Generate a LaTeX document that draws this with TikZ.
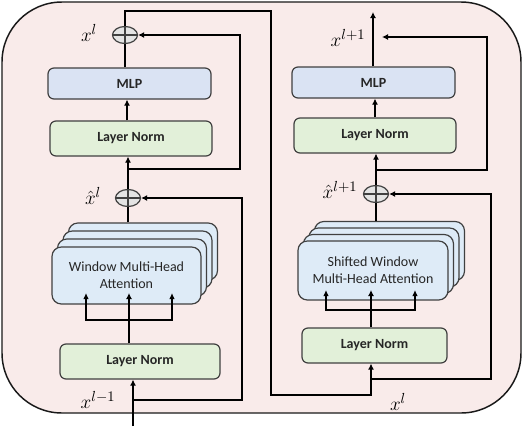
\documentclass[tikz,border=0pt]{standalone}
\usepackage{fontspec}
\newfontfamily\calib{Carlito}
\usetikzlibrary{arrows.meta,shapes.geometric}
\definecolor{bgpink}{HTML}{F9EBEA}
\definecolor{mlpblue}{HTML}{DAE3F3}
\definecolor{lngreen}{HTML}{E2F0D9}
\definecolor{mhablue}{HTML}{DEEBF7}
\definecolor{opgray}{HTML}{E4E4E4}
\definecolor{edge}{HTML}{404040}
\begin{document}
\begin{tikzpicture}[x=0.75pt,y=-0.75pt,
  sz/.style 2 args={minimum width=#1*0.75pt,minimum height=#2*0.75pt},
  blk/.style={draw=edge,line width=0.9pt,rounded corners=4.5pt,inner sep=0pt,align=center,
              text=black!85,font=\calib\fontsize{10.5}{12.5}\selectfont},
  mlpbox/.style={blk,fill=mlpblue,font=\calib\bfseries\fontsize{10.5}{12.5}\selectfont},
  lnbox/.style={blk,fill=lngreen,font=\calib\bfseries\fontsize{10.5}{12.5}\selectfont},
  mhabox/.style={blk,fill=mhablue,rounded corners=7pt},
  oplus/.style={ellipse,draw=edge,fill=opgray,line width=0.9pt,inner sep=0pt,sz={25}{17}},
  wire/.style={line width=1.6pt,black},
  arr/.style={wire,-{Latex[length=4.5pt,width=4.5pt]}},
  arrthick/.style={line width=2.1pt,black,-{Latex[length=4.5pt,width=4.5pt]}},
  arrthin/.style={line width=1.4pt,black,-{Latex[length=4.5pt,width=4.2pt]}},
  lbl/.style={inner sep=0pt,font=\fontsize{15}{17}\selectfont}]
\useasboundingbox (0,0) rectangle (526,426);
% outer panel
\draw[draw=black!90,fill=bgpink,line width=1.1pt,rounded corners=45pt] (2,2) rectangle (521,413);

% ---------------- left block ----------------
\node[mlpbox,sz={163}{31}] (mlpL) at (129.5,83.5) {MLP};
\node[lnbox,sz={162}{35}] (lnL1) at (131,138.5) {Layer Norm};
\node[lnbox,sz={160}{35}] (lnL2) at (140,361.5) {Layer Norm};
\foreach \i in {3,2,1}{
  \node[mhabox,sz={149}{57}] (mhaL\i) at (126.5+5.5*\i,275.5-8*\i) {};
}
\node[mhabox,sz={149}{57}] (mhaL) at (126.5,275.5) {Window Multi-Head\\Attention};
\node[oplus] (opA) at (125,35) {};
\node[oplus] (opB) at (128,198) {};
\foreach \o in {opA,opB}{
  \draw[edge,line width=0.9pt] (\o.north) -- (\o.south) (\o.west) -- (\o.east);
}
\node[lbl] (lxl) at (89,33) {$x^{l}$};
\node[lbl] (lxhl) at (93,196) {$\hat{x}^{l}$};
\node[lbl] (lxlm) at (98,400) {$x^{l-1}$};

\coordinate (inL) at (133,426);
\coordinate (brL) at (133,400);
\coordinate (cL) at (129,320);
\coordinate (tL1) at (86,293);
\coordinate (tL2) at (129,293);
\coordinate (tL3) at (172,293);
\coordinate (bL2) at (128,169);

\draw[arr] (inL) -- (inL |- lnL2.south);
\draw[arr] (brL) -- (242,400) |- (opB.east);
\draw[arrthick] (cL |- lnL2.north) -- (tL2);
\draw[arrthin] (cL) -| (tL1);
\draw[arrthin] (cL) -| (tL3);
\draw[wire] (opB |- mhaL3.north) -- (opB.south);
\draw[arr] (opB.north) -- (opB.north |- lnL1.south);
\draw[arr] (bL2) -- (240,169) |- (opA.east);
\draw[arr] (127,0 |- lnL1.north) -- (127,0 |- mlpL.south);
\draw[wire] (opA |- mlpL.north) -- (opA.south);

% ---------------- right block ----------------
\node[mlpbox,sz={163}{31}] (mlpR) at (373.5,82.5) {MLP};
\node[lnbox,sz={162}{35}] (lnR1) at (375,135.5) {Layer Norm};
\node[lnbox,sz={145}{35}] (lnR2) at (374.5,345.5) {Layer Norm};
\foreach \i in {3,2,1}{
  \node[mhabox,sz={150}{59}] (mhaR\i) at (373+5.5*\i,270.5-6.5*\i) {};
}
\node[mhabox,sz={150}{59}] (mhaR) at (373,270.5) {Shifted Window\\Multi-Head Attention};
\node[oplus] (opC) at (376,194) {};
\draw[edge,line width=0.9pt] (opC.north) -- (opC.south) (opC.west) -- (opC.east);
\node[lbl] (lxlp) at (348,38) {$x^{l+1}$};
\node[lbl] (lxhlp) at (340,190) {$\hat{x}^{l+1}$};
\node[lbl] (lxr) at (398,402) {$x^{l}$};

\coordinate (xRin) at (371,395);
\coordinate (bR1) at (371,379);
\coordinate (cR) at (371,310);
\coordinate (tR1) at (326,290);
\coordinate (tR2) at (371,290);
\coordinate (tR3) at (415,290);
\coordinate (bR2) at (376,170);
\coordinate (endR) at (382,37);
\coordinate (outR) at (373,12);

\draw[arr] (opA.north) |- (271,11) |- (xRin) -- (xRin |- lnR2.south);
\draw[arr] (bR1) -- (491,379) |- (opC.east);
\draw[arrthick] (cR |- lnR2.north) -- (tR2);
\draw[arrthin] (cR) -| (tR1);
\draw[arrthin] (cR) -| (tR3);
\draw[wire] (opC |- mhaR3.north) -- (opC.south);
\draw[arr] (opC.north) -- (opC.north |- lnR1.south);
\draw[arr] (bR2) -- (487,170) |- (endR);
\draw[arr] (375,0 |- lnR1.north) -- (375,0 |- mlpR.south);
\draw[arr] (outR |- mlpR.north) -- (outR);
\end{tikzpicture}
\end{document}
